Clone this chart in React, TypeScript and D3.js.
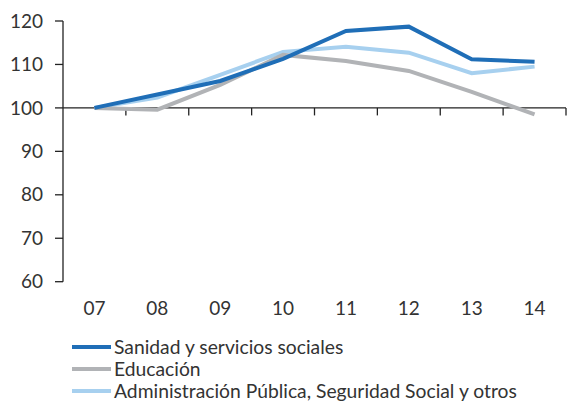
import React from 'react';
import * as d3 from 'd3';

const years = ['07', '08', '09', '10', '11', '12', '13', '14'];
const sanidad = [100, 103.1, 106.2, 111.3, 117.7, 118.7, 111.2, 110.6];
const educacion = [100, 99.6, 105.3, 112.2, 110.8, 108.5, 103.7, 98.5];
const administracion = [100, 102.4, 107.6, 112.9, 114.1, 112.7, 108.0, 109.5];
const yTicks = [60, 70, 80, 90, 100, 110, 120];

const series = [
  { name: 'Sanidad y servicios sociales', values: sanidad, color: '#1f6eb7' },
  { name: 'Educación', values: educacion, color: '#b1b3b6' },
  { name: 'Administración Pública, Seguridad Social y otros', values: administracion, color: '#a7d0ef' },
];

const W = 567;
const H = 402;
const font = 'Lato, "Open Sans", sans-serif';

export default function App() {
  const x = d3.scaleBand().domain(years).range([63, 566]);
  const y = d3.scaleLinear().domain([60, 120]).range([281.7, 21]);
  const line = d3.line<number>()
    .x((_, i) => (x(years[i]) as number) + x.bandwidth() / 2)
    .y(d => y(d));

  const base = y(100);
  const x0 = x.range()[0];
  const x1 = x.range()[1];
  const bounds = years.map(d => x(d) as number).slice(1).concat([x1]);

  return (
    <svg width={W} height={H} style={{ position: 'absolute', left: 0, top: 0, background: '#fff' }}>
      {/* y axis */}
      <line x1={x0} x2={x0} y1={y(120)} y2={y(60)} stroke="#222" strokeWidth={1.3} />
      {yTicks.map(t => (
        <g key={t}>
          <line x1={55} x2={x0} y1={y(t)} y2={y(t)} stroke="#222" strokeWidth={1.3} />
          <text x={43} y={y(t)} dy="0.35em" textAnchor="end" fontFamily={font} fontSize={19} fill="#333">{t}</text>
        </g>
      ))}
      {/* x axis at 100 */}
      <line x1={x0} x2={x1} y1={base} y2={base} stroke="#222" strokeWidth={1.3} />
      {bounds.map((b, i) => (
        <line key={i} x1={b} x2={b} y1={base} y2={base + 7.5} stroke="#222" strokeWidth={1.3} />
      ))}
      {years.map(d => (
        <text key={d} x={(x(d) as number) + x.bandwidth() / 2} y={308} dy="0.35em" textAnchor="middle" fontFamily={font} fontSize={19} fill="#333">{d}</text>
      ))}
      {/* series */}
      {series.slice().reverse().map(s => (
        <path key={s.name} d={line(s.values) || ''} fill="none" stroke={s.color} strokeWidth={4} strokeLinejoin="miter" />
      ))}
      {/* legend */}
      {series.map((s, i) => (
        <g key={s.name} transform={`translate(0, ${347 + i * 22})`}>
          <line x1={72} x2={111} y1={0} y2={0} stroke={s.color} strokeWidth={4} />
          <text x={114} y={0} dy="0.35em" fontFamily={font} fontSize={19.3} fill="#333">{s.name}</text>
        </g>
      ))}
    </svg>
  );
}
